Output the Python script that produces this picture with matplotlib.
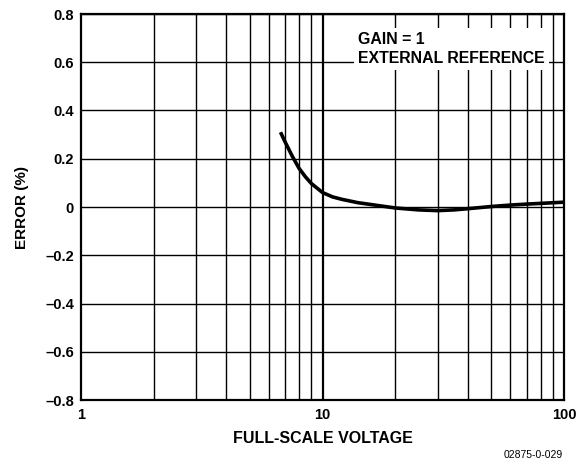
import matplotlib
matplotlib.use("Agg")
import matplotlib.pyplot as plt
from matplotlib.ticker import FixedLocator, NullLocator

plt.rcParams['font.family'] = ['Liberation Sans', 'DejaVu Sans']

voltage = [6.7, 7.0, 7.5, 8.0, 8.5, 9.0, 10, 11, 12, 14, 17, 20, 25, 30, 35, 40, 50, 60, 70, 80, 100]
error = [0.31, 0.27, 0.21, 0.16, 0.125, 0.097, 0.06, 0.042, 0.032, 0.018, 0.006, -0.004,
         -0.012, -0.015, -0.012, -0.007, 0.002, 0.008, 0.012, 0.015, 0.02]

y_ticks = [-0.8, -0.6, -0.4, -0.2, 0, 0.2, 0.4, 0.6, 0.8]
y_labels = ['–0.8', '–0.6', '–0.4', '–0.2', '0', '0.2', '0.4', '0.6', '0.8']
x_ticks = [1, 10, 100]
x_labels = ['1', '10', '100']
minor_x = [2, 3, 4, 5, 6, 7, 8, 9, 20, 30, 40, 50, 60, 70, 80, 90]

fig = plt.figure(figsize=(5.84, 4.65), dpi=100)
ax = fig.add_axes([81/584, 1-400/465, (564-81)/584, (400-14)/465])
ax.set_xscale('log')
ax.set_xlim(1, 100)
ax.set_ylim(-0.8, 0.8)

for yv in y_ticks:
    ax.axhline(yv, color='black', lw=1.0, zorder=1)
for xv in minor_x:
    ax.axvline(xv, color='black', lw=1.0, zorder=1)
ax.axvline(10, color='black', lw=1.6, zorder=1)

ax.plot(voltage, error, color='black', lw=2.6, zorder=3, solid_capstyle='butt')

ax.xaxis.set_major_locator(FixedLocator(x_ticks))
ax.xaxis.set_minor_locator(NullLocator())
ax.set_xticklabels(x_labels)
ax.set_yticks(y_ticks)
ax.set_yticklabels(y_labels)
ax.tick_params(length=0, labelsize=10.5, pad=5)
ax.tick_params(axis='x', pad=6)
for lab in ax.get_xticklabels() + ax.get_yticklabels():
    lab.set_fontweight('bold')
for s in ax.spines.values():
    s.set_linewidth(1.6)
    s.set_zorder(4)

ax.set_xlabel('FULL-SCALE VOLTAGE', fontsize=11.5, fontweight='bold', labelpad=6)
ax.set_ylabel('ERROR (%)', fontsize=11, fontweight='bold', labelpad=12)

ax.text(0.573, 0.953, 'GAIN = 1\nEXTERNAL REFERENCE', transform=ax.transAxes,
        fontsize=11.4, fontweight='bold', va='top', ha='left', linespacing=1.3, zorder=5,
        bbox=dict(facecolor='white', edgecolor='none', pad=3))

fig.text(563/584, 1-455/465, '02875-0-029', fontsize=7.5, ha='right', va='center')

fig.savefig('out.png', dpi=100)
